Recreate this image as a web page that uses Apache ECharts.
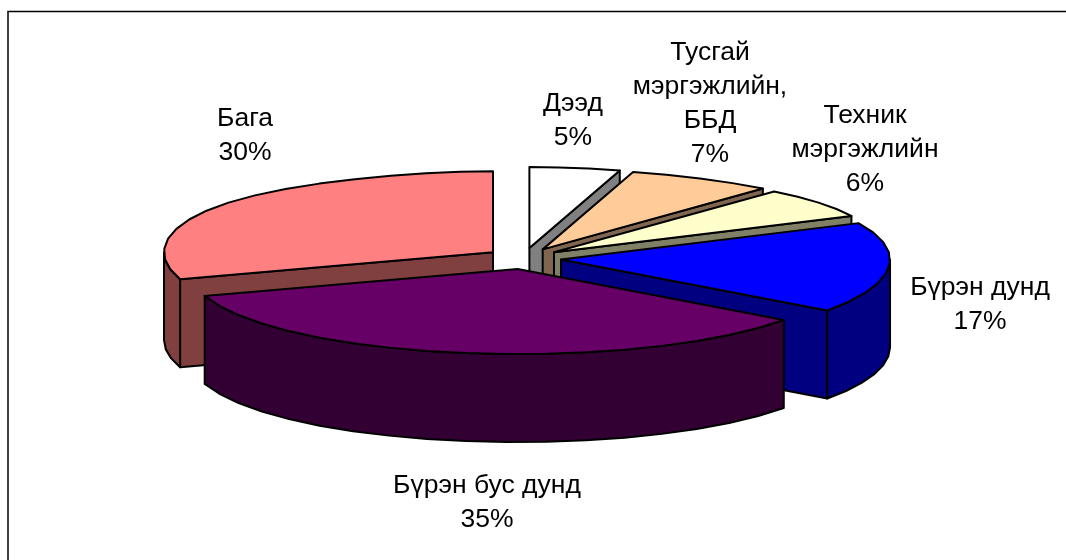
<!DOCTYPE html>
<html>
<head>
<meta charset="utf-8">
<style>html,body{margin:0;padding:0;background:#fff}#c{width:1066px;height:560px}</style>
<script src="https://cdn.jsdelivr.net/npm/echarts@6/dist/echarts.min.js"></script>
</head>
<body>
<div id="c"></div>
<script>
var categories = ['Дээд', 'Тусгай\nмэргэжлийн,\nББД', 'Техник\nмэргэжлийн', 'Бүрэн дунд', 'Бүрэн бус дунд', 'Бага'];
var percentages = [5, 7, 6, 17, 35, 30];
var topColors = ['#FFFFFF', '#FFCC99', '#FFFFCC', '#0000FF', '#660066', '#FF8080'];
var wallColors = ['#808080', '#806650', '#808066', '#000080', '#330033', '#804040'];
var paintRank = [0, 1, 2, 4, 5, 3];
var labelCentres = [[573, 121], [710, 104], [865, 150], [980, 305], [487, 503], [245, 136]];

var PIE = {cx: 523.5, cy: 258.5, rx: 329, explodeX: 37.7, explodeY: 10.6, depth: 88};
var total = percentages.reduce(function (a, b) { return a + b; }, 0);
var D2R = Math.PI / 180;

function sliceAngles(i) {
  var before = 0;
  for (var k = 0; k < i; k++) before += percentages[k];
  return [before / total * 360, (before + percentages[i]) / total * 360];
}
function project(c, deg, drop) {
  var s = Math.sin(deg * D2R), yf = -Math.cos(deg * D2R);
  var squeeze = yf < 0 ? 1 - 0.15 * Math.pow(-yf, 6) : 1;
  return [c[0] + PIE.rx * s * squeeze, c[1] + yf * (87 - 4 * yf * yf + 2 * yf) + (drop || 0)];
}
function arc(c, a, b, drop) {
  var out = [], step = 7, n = Math.max(1, Math.ceil((b - a) / step));
  for (var i = 0; i <= n; i++) out.push(project(c, a + (b - a) * i / n, drop));
  return out;
}
function poly(points, fill, z2) {
  return {
    type: 'polygon', shape: {points: points}, z2: z2,
    style: {fill: fill, stroke: '#000', lineWidth: 2, lineJoin: 'round'}
  };
}
function renderSlice(params, api) {
  var i = api.value(0), ang = sliceAngles(i), a = ang[0], b = ang[1], m = (a + b) / 2;
  var c = [PIE.cx + PIE.explodeX * Math.sin(m * D2R), PIE.cy - PIE.explodeY * Math.cos(m * D2R)];
  var base = paintRank[i] * 10, d = PIE.depth, kids = [];
  function wall(deg, z) {
    var e = project(c, deg);
    kids.push(poly([c, e, [e[0], e[1] + d], [c[0], c[1] + d]], wallColors[i], base + z));
  }
  if (a >= 180) wall(a, 1);
  if (b > 0 && b <= 180) wall(b, 1);
  var fa = Math.max(a, 90), fb = Math.min(b, 270);
  if (fb > fa) {
    var upper = arc(c, fa, fb, 0), lower = arc(c, fa, fb, d).reverse();
    kids.push(poly(upper.concat(lower), wallColors[i], base + 2));
  }
  kids.push(poly([c].concat(arc(c, a, b, 0)), topColors[i], base + 3));
  return {type: 'group', children: kids};
}

var labels = categories.map(function (name, i) {
  return {
    type: 'text', x: labelCentres[i][0], y: labelCentres[i][1], silent: true,
    style: {
      text: name + '\n' + percentages[i] + '%',
      fontFamily: 'Liberation Sans', fontSize: 26.5, lineHeight: 34,
      fill: '#000', align: 'center', verticalAlign: 'middle'
    }
  };
});
var frame = {
  type: 'polyline', silent: true,
  shape: {points: [[8, 560], [8, 11.5], [1066, 11.5]]},
  style: {fill: 'none', stroke: '#000', lineWidth: 1.5}
};

var chart = echarts.init(document.getElementById('c'), null, {renderer: 'canvas'});
chart.setOption({
  animation: false,
  backgroundColor: '#fff',
  graphic: {elements: [frame].concat(labels)},
  series: [{
    type: 'custom', coordinateSystem: 'none', silent: true,
    renderItem: renderSlice,
    data: percentages.map(function (v, i) { return [i, v]; })
  }]
});
</script>
</body>
</html>
